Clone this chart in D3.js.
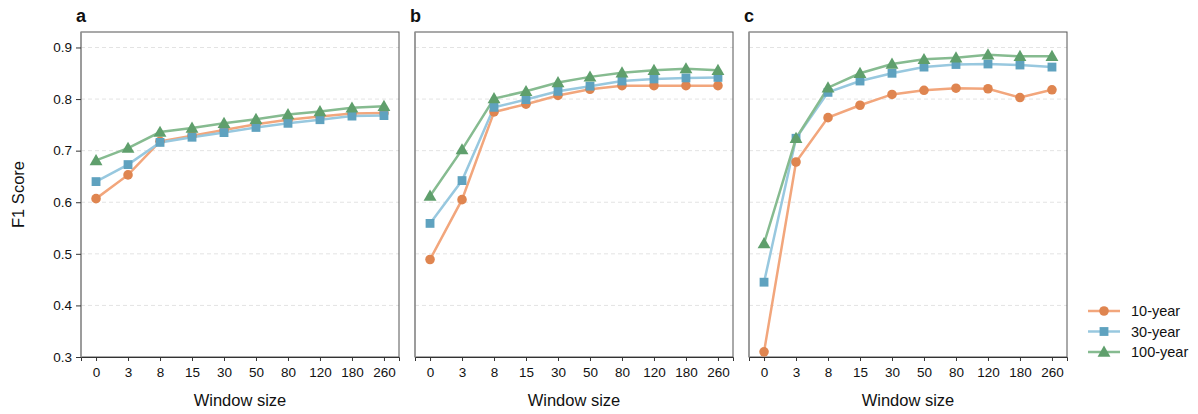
<!DOCTYPE html>
<html>
<head>
<meta charset="utf-8">
<script src="https://cdn.jsdelivr.net/npm/d3@7"></script>
<style>
  body { margin: 0; background: #fff; }
  svg text { font-family: "Liberation Sans", Arial, sans-serif; fill: #111; }
</style>
</head>
<body>
<svg id="chart" width="1198" height="414"></svg>
<script>
var windowSizes = ["0", "3", "8", "15", "30", "50", "80", "120", "180", "260"];
var yTicks = [0.3, 0.4, 0.5, 0.6, 0.7, 0.8, 0.9];
var panelLabels = ["a", "b", "c"];
var seriesNames = ["10-year", "30-year", "100-year"];

// panel a
var a10 = [0.607, 0.653, 0.718, 0.729, 0.740, 0.751, 0.760, 0.766, 0.772, 0.773];
var a30 = [0.640, 0.673, 0.716, 0.726, 0.735, 0.745, 0.753, 0.760, 0.767, 0.768];
var a100 = [0.681, 0.705, 0.736, 0.744, 0.753, 0.761, 0.770, 0.776, 0.783, 0.786];
// panel b
var b10 = [0.489, 0.605, 0.775, 0.790, 0.807, 0.819, 0.826, 0.826, 0.826, 0.826];
var b30 = [0.559, 0.642, 0.784, 0.799, 0.815, 0.825, 0.835, 0.839, 0.841, 0.842];
var b100 = [0.612, 0.702, 0.801, 0.815, 0.832, 0.843, 0.851, 0.856, 0.859, 0.856];
// panel c
var c10 = [0.310, 0.678, 0.764, 0.788, 0.809, 0.817, 0.821, 0.820, 0.803, 0.818];
var c30 = [0.445, 0.724, 0.813, 0.835, 0.850, 0.862, 0.867, 0.868, 0.866, 0.862];
var c100 = [0.520, 0.724, 0.822, 0.850, 0.868, 0.877, 0.880, 0.886, 0.883, 0.883];

var panels = [[a10, a30, a100], [b10, b30, b100], [c10, c30, c100]];

var lineColors = ["#f2a67c", "#98c8df", "#86bb90"];
var markColors = ["#df8550", "#5fa2bf", "#5f9f6c"];
var markShapes = [d3.symbolCircle, d3.symbolSquare, d3.symbolTriangle];
var markSizes = [72, 78, 72];

var svg = d3.select("#chart");
var panelLeft = [81, 415, 749];
var panelW = 318;
var plotTop = 32, plotBottom = 357;

var y = d3.scaleLinear().domain([0.3, 0.93]).range([plotBottom, plotTop]);

panels.forEach(function (series, pi) {
    var x0 = panelLeft[pi];
    var x = d3.scalePoint()
        .domain(windowSizes)
        .range([x0, x0 + panelW])
        .padding(0.47);
    var g = svg.append("g");

    // grid
    g.selectAll("line.grid")
        .data(yTicks.filter(function (d) { return d > 0.3; }))
        .enter().append("line")
        .attr("x1", x0).attr("x2", x0 + panelW)
        .attr("y1", function (d) { return y(d); })
        .attr("y2", function (d) { return y(d); })
        .attr("stroke", "#e3e3e3")
        .attr("stroke-dasharray", "4,3");

    // frame
    g.append("rect")
        .attr("x", x0).attr("y", plotTop)
        .attr("width", panelW).attr("height", plotBottom - plotTop)
        .attr("fill", "none")
        .attr("stroke", "#555")
        .attr("stroke-width", 1);
    g.append("line")
        .attr("x1", x0).attr("x2", x0)
        .attr("y1", plotTop).attr("y2", plotBottom)
        .attr("stroke", "#999")
        .attr("stroke-width", 1.5);

    // x axis
    var xAxis = d3.axisBottom(x).tickSize(4).tickPadding(6);
    var xg = g.append("g")
        .attr("transform", "translate(0," + plotBottom + ")")
        .call(xAxis);
    xg.select(".domain").attr("stroke", "#333");
    xg.selectAll(".tick line").attr("stroke", "#333");
    xg.selectAll("text").attr("font-size", 13.5).attr("fill", "#111");

    if (pi === 0) {
        var yAxis = d3.axisLeft(y).tickValues(yTicks)
            .tickFormat(d3.format(".1f")).tickSize(5).tickPadding(4);
        var yg = g.append("g")
            .attr("transform", "translate(" + x0 + ",0)")
            .call(yAxis);
        yg.select(".domain").remove();
        yg.selectAll(".tick line").attr("stroke", "#333");
        yg.selectAll("text").attr("font-size", 13.5).attr("fill", "#111");
    }

    // series
    var line = d3.line()
        .x(function (d, i) { return x(windowSizes[i]); })
        .y(function (d) { return y(d); });

    series.forEach(function (vals, si) {
        g.append("path")
            .datum(vals)
            .attr("d", line)
            .attr("fill", "none")
            .attr("stroke", lineColors[si])
            .attr("stroke-width", 2.5);
    });
    series.forEach(function (vals, si) {
        var sym = d3.symbol().type(markShapes[si]).size(markSizes[si]);
        g.selectAll("path.m" + si)
            .data(vals)
            .enter().append("path")
            .attr("class", "m" + si)
            .attr("d", sym)
            .attr("transform", function (d, i) {
                var dy = si === 2 ? 1 : 0;
                return "translate(" + x(windowSizes[i]) + "," + (y(d) + dy) + ")";
            })
            .attr("fill", markColors[si]);
    });

    // panel label
    g.append("text")
        .attr("x", x0 - 5)
        .attr("y", 22)
        .attr("font-size", 18)
        .attr("font-weight", "bold")
        .text(panelLabels[pi]);

    // x title
    g.append("text")
        .attr("x", x0 + panelW / 2)
        .attr("y", 406)
        .attr("text-anchor", "middle")
        .attr("font-size", 16.5)
        .text("Window size");
});

// y title
svg.append("text")
    .attr("transform", "translate(24," + ((plotTop + plotBottom) / 2) + ") rotate(-90)")
    .attr("text-anchor", "middle")
    .attr("font-size", 16.5)
    .text("F1 Score");

// legend
var legend = svg.append("g");
seriesNames.forEach(function (name, si) {
    var ly = 311 + si * 20.5;
    legend.append("line")
        .attr("x1", 1088).attr("x2", 1120)
        .attr("y1", ly).attr("y2", ly)
        .attr("stroke", lineColors[si])
        .attr("stroke-width", 2.5);
    legend.append("path")
        .attr("d", d3.symbol().type(markShapes[si]).size(markSizes[si]))
        .attr("transform", "translate(1104," + (ly + (si === 2 ? 1 : 0)) + ")")
        .attr("fill", markColors[si]);
    legend.append("text")
        .attr("x", 1131)
        .attr("y", ly)
        .attr("dy", "0.35em")
        .attr("font-size", 14.5)
        .text(name);
});
</script>
</body>
</html>
